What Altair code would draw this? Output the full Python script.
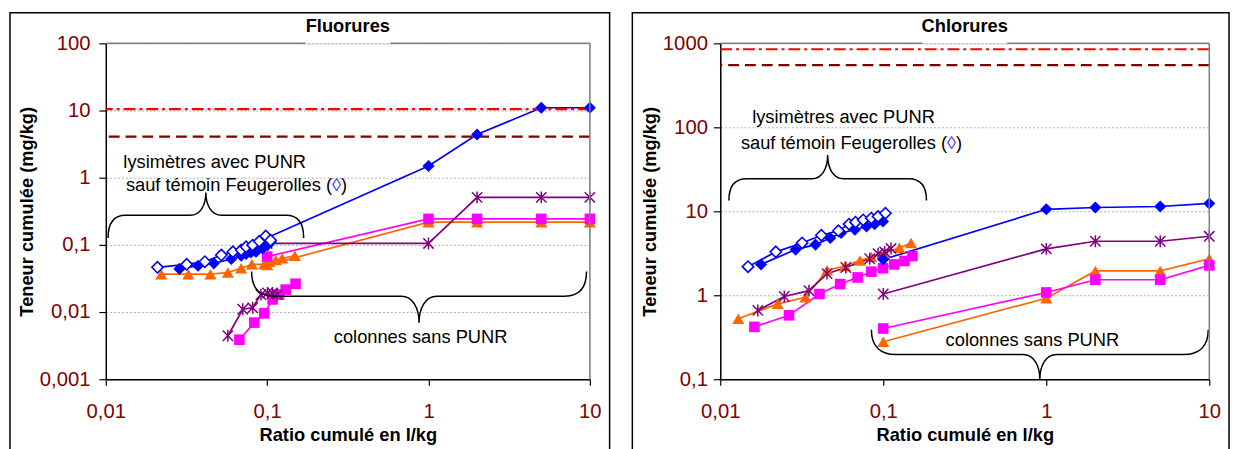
import altair as alt
import pandas as pd

FONT = "Liberation Sans"
BLUE = "#0000FF"
ORANGE = "#FF6600"
PINK = "#FF00FF"
PURPLE = "#800080"
DARKRED = "#800000"
RED = "#FF0000"

# ---------------- Fluorures ----------------
f_temoin_x = [0.0209, 0.0317, 0.0411, 0.052, 0.0613, 0.069, 0.074, 0.0813, 0.0893, 0.098, 0.105]
f_temoin_y = [0.0463, 0.0513, 0.0562, 0.0705, 0.0789, 0.0836, 0.0935, 0.099, 0.113, 0.1355, 0.117]
f_blue_x = [0.0286, 0.0373, 0.0467, 0.0599, 0.069, 0.074, 0.0794, 0.0853, 0.0936, 0.1005, 0.1054]
f_blue_y = [0.0439, 0.049, 0.0531, 0.0616, 0.0689, 0.073, 0.077, 0.0789, 0.0883, 0.099, 0.1107]
f_orange_x = [0.0221, 0.0325, 0.0445, 0.0571, 0.069, 0.0805, 0.0958, 0.103, 0.113, 0.124, 0.1485]
f_orange_y = [0.0366, 0.0366, 0.0366, 0.0388, 0.0448, 0.0513, 0.0513, 0.0562, 0.0596, 0.063, 0.0689]
f_purple_x = [0.0571, 0.0706, 0.0813, 0.0915, 0.1005, 0.108, 0.1157]
f_purple_y = [0.00444, 0.011, 0.0116, 0.0182, 0.0192, 0.0192, 0.0182]
f_pink_x = [0.0673, 0.0833, 0.0958, 0.108, 0.1185, 0.1303, 0.15]
f_pink_y = [0.00388, 0.00697, 0.00957, 0.0154, 0.0182, 0.0216, 0.0264]
col_x = [0.1, 1, 2, 5, 10]
f_col_blue = [0.128, 1.49, 4.4, 11.0, 11.0]
f_col_purple = [0.105, 0.105, 0.51, 0.51, 0.51]
f_col_pink = [0.067, 0.244, 0.244, 0.244, 0.244]
f_col_orange = [0.05, 0.218, 0.218, 0.218, 0.218]
f_thresholds = [10.5, 4.1]

# ---------------- Chlorures ----------------
c_temoin_x = [0.0148, 0.0219, 0.0318, 0.0417, 0.0531, 0.0617, 0.0676, 0.0753, 0.0845, 0.0929, 0.103]
c_temoin_y = [2.19, 3.29, 4.2, 5.18, 5.87, 7.03, 7.43, 7.9, 8.28, 8.66, 9.47]
c_blue_x = [0.0178, 0.029, 0.0384, 0.0473, 0.0551, 0.067, 0.0789, 0.0885, 0.0996]
c_blue_y = [2.33, 3.5, 4.01, 4.81, 5.51, 6.03, 6.6, 7.03, 7.55]
c_orange_x = [0.0129, 0.0225, 0.0333, 0.0452, 0.0583, 0.0719, 0.0845, 0.102, 0.1256, 0.148]
c_orange_y = [0.526, 0.79, 0.946, 1.99, 2.23, 2.6, 2.85, 3.2, 3.67, 4.2]
c_purple_x = [0.017, 0.0247, 0.035, 0.0452, 0.0589, 0.0826, 0.0929, 0.102, 0.1116]
c_purple_y = [0.66, 0.966, 1.135, 1.81, 2.14, 2.72, 3.12, 3.29, 3.6]
c_pink_x = [0.0162, 0.0264, 0.0406, 0.0544, 0.0696, 0.0845, 0.0996, 0.117, 0.135, 0.151]
c_pink_y = [0.42, 0.577, 1.035, 1.36, 1.63, 1.91, 2.1, 2.33, 2.56, 2.93]
c_col_blue = [2.67, 10.56, 11.1, 11.4, 12.4]
c_col_purple = [1.035, 3.57, 4.4, 4.4, 5.04]
c_col_pink = [0.402, 1.08, 1.53, 1.53, 2.27]
c_col_orange = [0.28, 0.923, 1.95, 1.95, 2.72]
c_thresholds = [850, 550]

x_ticks = [0.01, 0.1, 1, 10]
f_y_ticks = [0.001, 0.01, 0.1, 1, 10, 100]
c_y_ticks = [0.1, 1, 10, 100, 1000]

KIND_DOMAIN = ["orange", "pink", "purple", "blue_f", "blue_o"]
KIND_RANGE = [ORANGE, PINK, PURPLE, BLUE, BLUE]

ASTERISK = "M-1,-1L1,1M-1,1L1,-1M0,-1.15L0,1.15"
LABEL_EXPR = "replace(toString(datum.value), '.', ',')"


def brace_path(e, t, r, s, up=True):
    k = 1 if up else -1
    f = lambda v: f"{v:.4f}"
    return (
        f"M-1,{f(k*e)} C-1,{f(k*e*0.35)} {f(-1+r*0.35)},0 {f(-1+r)},0 "
        f"L{f(-s)},0 C{f(-s*0.35)},0 0,{f(-k*t*0.45)} 0,{f(-k*t)} "
        f"C0,{f(-k*t*0.45)} {f(s*0.35)},0 {f(s)},0 "
        f"L{f(1-r)},0 C{f(1-r*0.35)},0 1,{f(k*e*0.35)} 1,{f(k*e)}"
    )


def series_df(items):
    rows = []
    for name, kind, shape, xs, ys in items:
        for x, y in zip(xs, ys):
            rows.append({"series": name, "kind": kind, "shape": shape, "x": x, "y": y})
    return pd.DataFrame(rows)


def make_panel(title, items, ydom, yticks, thr, braces, texts, diamond_pos,
               w, h, ytitle_x, ylab_pad, rect_left, rect_right):
    df = series_df(items)
    xsc = alt.Scale(type="log", domain=[0.01, 10], nice=False)
    ysc = alt.Scale(type="log", domain=ydom, nice=False)
    xaxis = alt.Axis(values=x_ticks, labelExpr=LABEL_EXPR, labelColor=DARKRED,
                     labelFontSize=20.5, labelFont=FONT, labelPadding=27,
                     labelBaseline="middle", labelFlush=False, labelOverlap=False,
                     tickSize=6, tickColor="black", tickWidth=1.2,
                     domainColor="black", domainWidth=1.5, grid=False,
                     title="Ratio cumulé en l/kg", titleFont=FONT, titleFontSize=18.5,
                     titleFontWeight="bold", titleColor="black", titleY=56,
                     titleBaseline="middle")
    yaxis = alt.Axis(values=yticks, labelExpr=LABEL_EXPR, labelColor=DARKRED,
                     labelFontSize=20.5, labelFont=FONT, labelPadding=ylab_pad,
                     labelOverlap=False, tickSize=7, tickColor="black", tickWidth=1.2,
                     domainColor="black", domainWidth=1.5, grid=True,
                     gridColor="#999999", gridDash=[2, 2], gridWidth=0.8,
                     title="Teneur cumulée (mg/kg)", titleFont=FONT, titleFontSize=18.5,
                     titleFontWeight="bold", titleColor="black", titleX=ytitle_x,
                     titleY=h / 2, titleBaseline="middle")

    X = lambda: alt.X("x:Q", scale=xsc, axis=xaxis, title="Ratio cumulé en l/kg")
    Y = lambda: alt.Y("y:Q", scale=ysc, axis=yaxis, title="Teneur cumulée (mg/kg)")

    one = pd.DataFrame({"a": [0]})
    layers = []
    # series lines (first layer carries the axes)
    layers.append(alt.Chart(df).mark_line(strokeWidth=1.7).encode(
        x=X(), y=Y(),
        color=alt.Color("kind:N", scale=alt.Scale(domain=KIND_DOMAIN, range=KIND_RANGE), legend=None),
        detail="series:N"))
    # threshold lines
    layers.append(alt.Chart(pd.DataFrame({"y": [thr[0]]})).mark_rule(
        color=RED, strokeWidth=2.2, strokeDash=[12, 4, 3, 4]).encode(y=Y()))
    layers.append(alt.Chart(pd.DataFrame({"y": [thr[1]]})).mark_rule(
        color=DARKRED, strokeWidth=2.2, strokeDash=[11, 6]).encode(y=Y()))
    # markers
    sub = lambda s: df[df["shape"] == s]
    layers.append(alt.Chart(sub("triangle")).mark_point(
        shape="triangle-up", filled=True, color=ORANGE, size=150, opacity=1).encode(x=X(), y=Y()))
    layers.append(alt.Chart(sub("square")).mark_point(
        shape="square", filled=True, color=PINK, size=115, opacity=1).encode(x=X(), y=Y()))
    layers.append(alt.Chart(sub("asterisk")).mark_point(
        shape=ASTERISK, filled=False, color=PURPLE, size=110, strokeWidth=1.5, opacity=1).encode(x=X(), y=Y()))
    layers.append(alt.Chart(sub("diamond")).mark_point(
        shape="diamond", filled=True, color=BLUE, size=150, opacity=1).encode(x=X(), y=Y()))
    layers.append(alt.Chart(sub("odiamond")).mark_point(
        shape="diamond", filled=True, fill="white", stroke=BLUE, strokeWidth=1.6,
        size=130, opacity=1).encode(x=X(), y=Y()))
    # braces
    for bx, by, width, e, t, r, s, up in braces:
        layers.append(alt.Chart(pd.DataFrame({"x": [bx], "y": [by]})).mark_point(
            shape=brace_path(e, t, r, s, up), filled=False, color="black",
            strokeWidth=1.5, size=width * width, opacity=1).encode(x=X(), y=Y()))
    # texts
    for tx, ty, txt in texts:
        layers.append(alt.Chart(pd.DataFrame({"x": [tx], "y": [ty], "t": [txt]})).mark_text(
            font=FONT, fontSize=18.5, color="black", align="center", baseline="middle").encode(
            x=X(), y=Y(), text="t:N"))
    dx, dy = diamond_pos
    dd = pd.DataFrame({"x": [dx], "y": [dy]})
    layers.append(alt.Chart(dd.assign(t="sauf témoin Feugerolles (")).mark_text(
        font=FONT, fontSize=18.5, color="black", align="right", baseline="middle", dx=-4.5).encode(
        x=X(), y=Y(), text="t:N"))
    layers.append(alt.Chart(dd.assign(t="◊")).mark_text(
        font=FONT, fontSize=18.5, color="#3333FF", align="center", baseline="middle").encode(
        x=X(), y=Y(), text="t:N"))
    layers.append(alt.Chart(dd.assign(t=")")).mark_text(
        font=FONT, fontSize=18.5, color="black", align="left", baseline="middle", dx=4.5).encode(
        x=X(), y=Y(), text="t:N"))
    # plot-area borders (top with gap for the title, right)
    gray = "#808080"
    layers.append(alt.Chart(one).mark_rule(color=gray, strokeWidth=1.5).encode(
        x=alt.value(0), x2=alt.value(w / 2 - 43), y=alt.value(0)))
    layers.append(alt.Chart(one).mark_rule(color=gray, strokeWidth=1.5).encode(
        x=alt.value(w / 2 + 43), x2=alt.value(w), y=alt.value(0)))
    layers.append(alt.Chart(one).mark_rule(color=gray, strokeWidth=1.5).encode(
        x=alt.value(w), y=alt.value(0), y2=alt.value(h)))
    # title
    layers.append(alt.Chart(pd.DataFrame({"t": [title]})).mark_text(
        font=FONT, fontSize=18.5, fontWeight="bold", color="black", align="center",
        baseline="middle").encode(text="t:N", x=alt.value(w / 2), y=alt.value(-17)))
    # chart-area frame
    layers.append(alt.Chart(one).mark_rect(fillOpacity=0, stroke="black", strokeWidth=1.5).encode(
        x=alt.value(rect_left), x2=alt.value(w + rect_right), y=alt.value(-31), y2=alt.value(h + 80)))

    return alt.layer(*layers).properties(width=w, height=h)


f_items = [
    ("f_lys_orange", "orange", "triangle", f_orange_x, f_orange_y),
    ("f_col_orange", "orange", "triangle", col_x, f_col_orange),
    ("f_lys_pink", "pink", "square", f_pink_x, f_pink_y),
    ("f_col_pink", "pink", "square", col_x, f_col_pink),
    ("f_lys_purple", "purple", "asterisk", f_purple_x, f_purple_y),
    ("f_col_purple", "purple", "asterisk", col_x, f_col_purple),
    ("f_lys_blue", "blue_f", "diamond", f_blue_x, f_blue_y),
    ("f_col_blue", "blue_f", "diamond", col_x, f_col_blue),
    ("f_temoin", "blue_o", "odiamond", f_temoin_x, f_temoin_y),
]
c_items = [
    ("c_lys_orange", "orange", "triangle", c_orange_x, c_orange_y),
    ("c_col_orange", "orange", "triangle", col_x, c_col_orange),
    ("c_lys_pink", "pink", "square", c_pink_x, c_pink_y),
    ("c_col_pink", "pink", "square", col_x, c_col_pink),
    ("c_lys_purple", "purple", "asterisk", c_purple_x, c_purple_y),
    ("c_col_purple", "purple", "asterisk", col_x, c_col_purple),
    ("c_lys_blue", "blue_f", "diamond", c_blue_x, c_blue_y),
    ("c_col_blue", "blue_f", "diamond", col_x, c_col_blue),
    ("c_temoin", "blue_o", "odiamond", c_temoin_x, c_temoin_y),
]

left = make_panel(
    "Fluorures", f_items, [0.001, 100], f_y_ticks, f_thresholds,
    braces=[(0.0417, 0.276, 198, 0.232, 0.232, 0.18, 0.16, True),
            (0.874, 0.0172, 339, 0.147, 0.159, 0.13, 0.106, False)],
    texts=[(0.0473, 1.72, "lysimètres avec PUNR"),
           (0.893, 0.00428, "colonnes sans PUNR")],
    diamond_pos=(0.2688, 0.789),
    w=490, h=340, ytitle_x=-80, ylab_pad=9, rect_left=-97, rect_right=20)

right = make_panel(
    "Chlorures", c_items, [0.1, 1000], c_y_ticks, c_thresholds,
    braces=[(0.0456, 24.4, 200, 0.22, 0.24, 0.18, 0.16, True),
            (0.913, 0.197, 341, 0.147, 0.147, 0.147, 0.1, False)],
    texts=[(0.057, 131, "lysimètres avec PUNR"),
           (0.822, 0.296, "colonnes sans PUNR")],
    diamond_pos=(0.262, 64.9),
    w=495, h=340, ytitle_x=-72, ylab_pad=6, rect_left=-89, rect_right=20)

chart = alt.hconcat(left, right, spacing=19, padding=0).configure_view(
    stroke="transparent").configure(font=FONT, background="white")

chart.save("out.html", embed_options={"renderer": "svg", "actions": False})
